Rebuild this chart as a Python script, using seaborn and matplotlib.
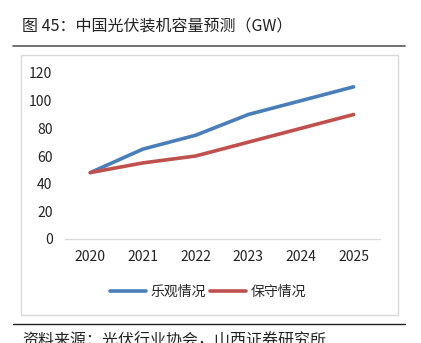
import matplotlib
matplotlib.use("Agg")
import matplotlib.pyplot as plt
import seaborn as sns
import pandas as pd
from matplotlib.patches import Rectangle
from matplotlib.lines import Line2D

years = ["2020", "2021", "2022", "2023", "2024", "2025"]
optimistic = [48, 65, 75, 90, 100, 110]
conservative = [48, 55, 60, 70, 80, 90]
series_names = ["乐观情况", "保守情况"]
y_ticks = [0, 20, 40, 60, 80, 100, 120]

sns.set_theme(style="white")
plt.rcParams["font.family"] = ["Noto Sans CJK SC", "DejaVu Sans"]

df = pd.DataFrame({
    "year": list(range(len(years))) * 2,
    "value": optimistic + conservative,
    "series": [series_names[0]] * len(years) + [series_names[1]] * len(years),
})

W, H = 421, 343
fig = plt.figure(figsize=(W / 100, H / 100), dpi=100)

# chart frame box
fig.patches.append(Rectangle((21 / W, 1 - 315 / H), (398 - 21) / W, (315 - 55) / H,
                             transform=fig.transFigure, fill=False,
                             edgecolor="#d9d9d9", linewidth=1.0))
# header / footer rules
fig.lines.append(Line2D([13 / W, 405 / W], [1 - 46 / H, 1 - 46 / H],
                        transform=fig.transFigure, color="#666666", linewidth=1.3))
fig.lines.append(Line2D([13 / W, 405 / W], [1 - 324 / H, 1 - 324 / H],
                        transform=fig.transFigure, color="#222222", linewidth=1.0))

fig.text(22 / W, 1 - 27 / H, "图 45：中国光伏装机容量预测（GW）", fontsize=11.5,
         color="#222222", va="center", ha="left")
fig.text(22 / W, 1 - 341 / H, "资料来源：光伏行业协会，山西证券研究所", fontsize=11.5,
         color="#222222", va="center", ha="left")

ax = fig.add_axes([65 / W, 1 - 239 / H, (380 - 65) / W, (239 - 73) / H])
palette = {series_names[0]: "#4a7ebb", series_names[1]: "#c0504d"}
sns.lineplot(data=df, x="year", y="value", hue="series", palette=palette,
             linewidth=2.6, ax=ax, legend=False)

ax.set_xlim(-0.48, 5.5)
ax.set_ylim(0, 120)
ax.set_xticks(range(len(years)))
ax.set_xticklabels(years)
ax.set_yticks(y_ticks)
ax.set_xlabel("")
ax.set_ylabel("")
for s in ["top", "right", "left"]:
    ax.spines[s].set_visible(False)
ax.spines["bottom"].set_color("#d9d9d9")
ax.spines["bottom"].set_linewidth(0.9)
ax.tick_params(axis="both", length=0, labelsize=10, colors="#222222")
ax.tick_params(axis="x", pad=8)
ax.tick_params(axis="y", pad=9)
ax.set_facecolor("none")

handles = [Line2D([], [], color=palette[n], linewidth=2.6) for n in series_names]
fig.legend(handles, series_names, loc="center", bbox_to_anchor=(208 / W, 1 - 292 / H),
           ncol=2, frameon=False, fontsize=10, handlelength=2.6, columnspacing=0.3,
           handletextpad=0.3)

fig.savefig("out.png", dpi=100)
